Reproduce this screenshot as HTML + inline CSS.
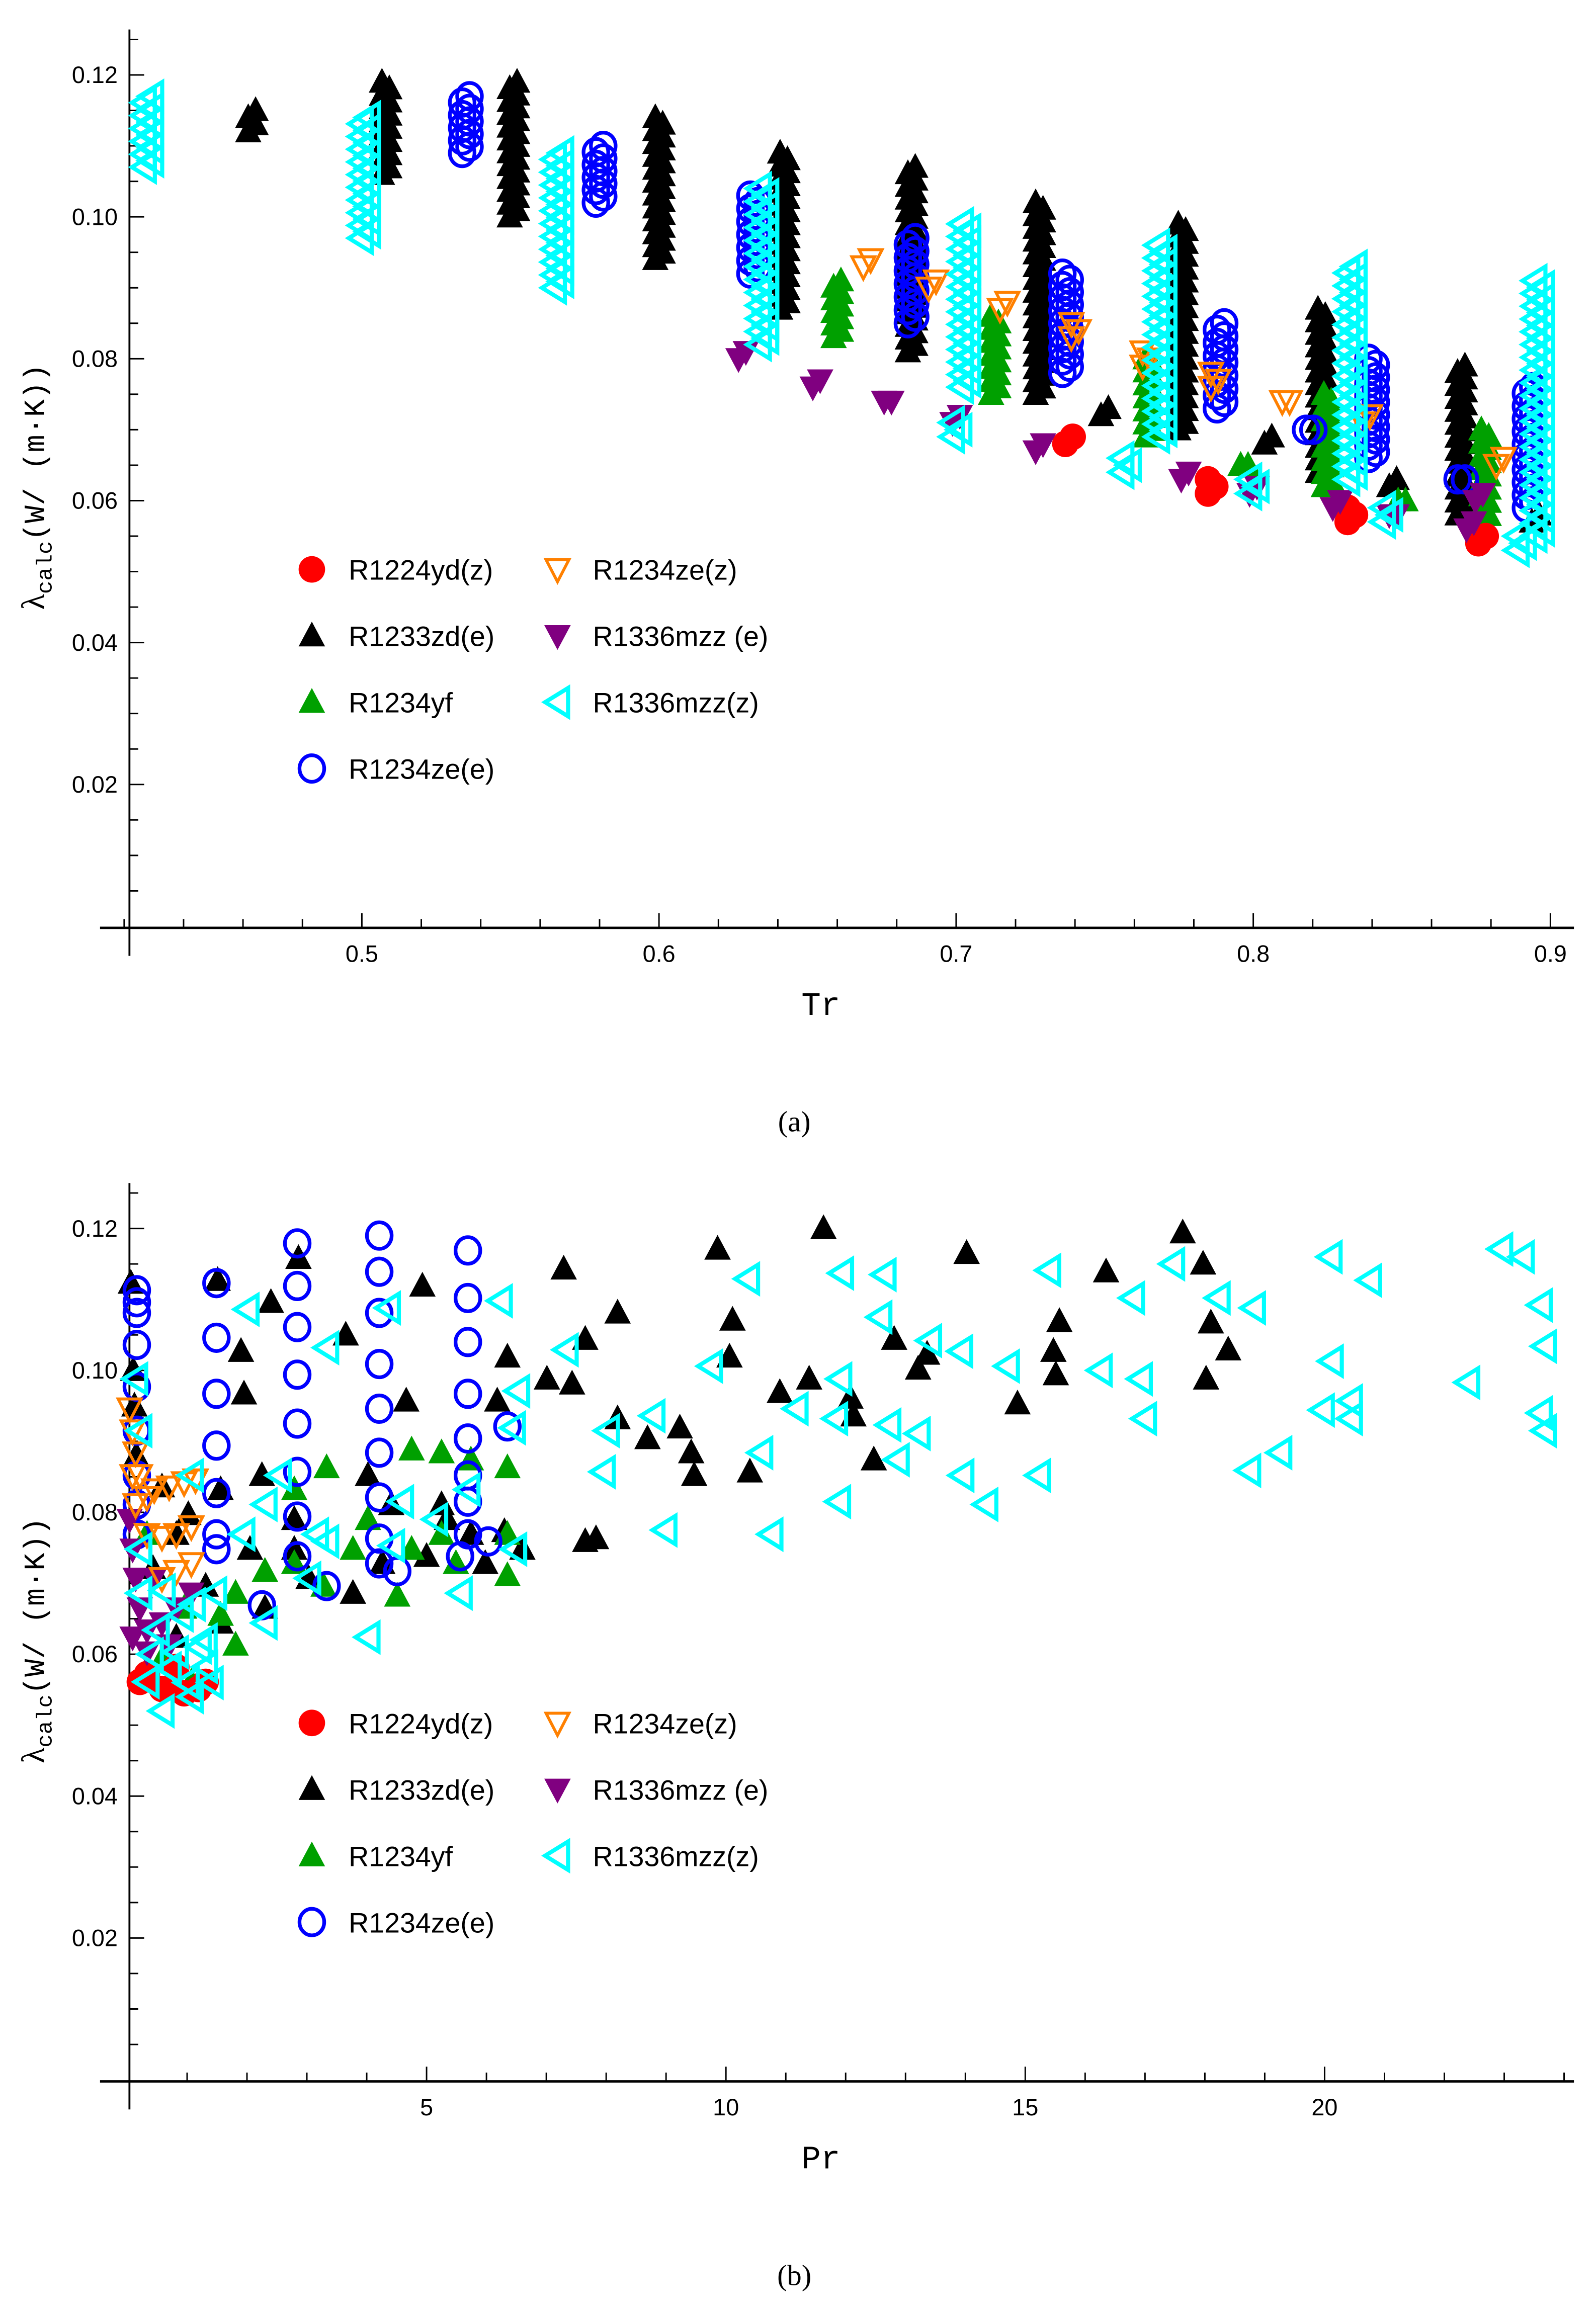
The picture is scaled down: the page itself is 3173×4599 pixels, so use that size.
<!DOCTYPE html>
<html><head><meta charset="utf-8"><title>Thermal conductivity vs Tr and Pr</title>
<style>html,body{margin:0;padding:0;background:#fff}svg{display:block}</style></head>
<body>
<svg id="fig" xmlns="http://www.w3.org/2000/svg" width="3173" height="4599" viewBox="0 0 1085 1568" preserveAspectRatio="none" font-family="'Liberation Sans', sans-serif">
<rect width="1085" height="1568" fill="#fff"/>
<g id="pa"></g>
<g id="pb"></g>
</svg>
<script>
// ---------- Panel (a): λ vs Tr, clusters (Tr, low λ, high λ) ----------
const trTicksA = [0.5, 0.6, 0.7, 0.8, 0.9];
const trTickLabelsA = ["0.5", "0.6", "0.7", "0.8", "0.9"];
const lamTicks = [0.02, 0.04, 0.06, 0.08, 0.10, 0.12];
const lamTickLabels = ["0.02", "0.04", "0.06", "0.08", "0.10", "0.12"];

const blackTrA = [0.463,0.508,0.551,0.600,0.642,0.685,0.728,0.776,0.823,0.870,0.750,0.805,0.847,0.895];
const blackLoA = [0.112,0.106,0.100,0.094,0.087,0.081,0.075,0.070,0.064,0.058,0.072,0.068,0.062,0.057];
const blackHiA = [0.115,0.119,0.119,0.114,0.109,0.107,0.102,0.099,0.087,0.079,0.073,0.069,0.063,0.058];

const greenTrA = [0.660,0.713,0.765,0.825,0.878,0.797,0.850];
const greenLoA = [0.083,0.075,0.069,0.062,0.057,0.065,0.060];
const greenHiA = [0.091,0.086,0.080,0.075,0.070,0.065,0.060];

const redTrA = [0.738,0.786,0.833,0.877];
const redLoA = [0.068,0.061,0.057,0.054];
const redHiA = [0.069,0.063,0.059,0.055];

const blueTrA = [0.535,0.580,0.632,0.685,0.737,0.789,0.840,0.893,0.819,0.870];
const blueLoA = [0.109,0.102,0.092,0.085,0.078,0.073,0.066,0.059,0.070,0.063];
const blueHiA = [0.117,0.110,0.103,0.097,0.092,0.085,0.080,0.076,0.070,0.063];

const purpleTrA = [0.628,0.653,0.677,0.700,0.728,0.777,0.800,0.828,0.847,0.873,0.876];
const purpleLoA = [0.080,0.076,0.074,0.071,0.067,0.063,0.061,0.059,0.058,0.056,0.060];
const purpleHiA = [0.081,0.077,0.074,0.072,0.068,0.064,0.062,0.060,0.058,0.057,0.061];

const orangeTrA = [0.670,0.692,0.716,0.740,0.764,0.787,0.811,0.838,0.883];
const orangeLoA = [0.093,0.090,0.087,0.083,0.079,0.076,0.074,0.071,0.065];
const orangeHiA = [0.094,0.091,0.088,0.085,0.081,0.078,0.074,0.072,0.066];

const cyanTrA = [0.428,0.501,0.566,0.635,0.703,0.769,0.833,0.896,0.700,0.757,0.800,0.845,0.890];
const cyanLoA = [0.107,0.097,0.090,0.082,0.076,0.069,0.063,0.055,0.069,0.064,0.061,0.057,0.053];
const cyanHiA = [0.117,0.114,0.109,0.104,0.099,0.096,0.093,0.091,0.071,0.066,0.063,0.059,0.055];

// ---------- Panel (b): λ vs Pr, scattered points ----------
const prTicksB = [5, 10, 15, 20];
const prTickLabelsB = ["5", "10", "15", "20"];

const blackPrB = [0.06,1.51,2.86,2.40,4.93,7.29,9.86,11.63,14.02,16.35,17.63,17.97,1.90,1.95,3.65,6.35,8.19,7.65,9.23,10.11,10.06,10.90,11.39,12.13,12.81,13.36,15.57,15.51,18.10,18.39,18.02,4.66,6.18,7.01,7.43,8.19,8.69,9.42,9.47,10.40,12.08,12.47,13.21,14.87,15.47,1.56,2.25,1.02,0.43,4.41,5.34,6.30,7.65,0.58,0.82,2.05,3.03,2.79,3.77,5.25,5.74,1.31,2.30,4.26,6.60,7.83,5.98,5.00,4.02,2.79,0.82,1.56,0.10,0.12,0.15];
const blackLamB = [.1123,.1127,.1158,.1096,.1119,.1143,.1171,.1200,.1165,.1139,.1194,.1150,.1027,.0967,.1050,.1019,.1081,.1044,.0919,.1071,.1019,.0969,.0988,.0936,.1044,.1023,.1069,.0994,.1067,.1029,.0988,.0957,.0957,.0988,.0981,.0932,.0904,.0884,.0852,.0857,.0961,.0874,.1002,.0953,.1027,.0832,.0852,.0797,.0721,.0811,.0790,.0773,.0759,.0836,.0769,.0748,.0707,.0748,.0686,.0811,.0769,.0696,.0665,.0728,.0748,.0763,.0728,.0738,.0852,.0790,.0624,.0644,.1000,.0950,.0880];

const greenPrB = [0.95,1.81,2.79,3.33,4.02,4.75,5.25,5.74,6.35,1.81,1.07,0.58,2.79,3.28,3.77,4.75,5.25,6.35,5.49,6.35,4.51,2.30,1.56,0.33];
const greenLamB = [.0665,.0686,.0832,.0863,.0790,.0888,.0884,.0874,.0863,.0613,.0561,.0593,.0728,.0696,.0748,.0748,.0769,.0769,.0728,.0711,.0682,.0717,.0655,.0769];

const redPrB = [0.33,0.58,0.95,1.19,1.31,0.21,0.82];
const redLamB = [.0572,.0551,.0545,.0551,.0561,.0561,.0582];

const bluePrB = [0.16,0.16,0.16,0.16,0.16,0.16,0.16,0.16,0.16,1.49,1.49,1.49,1.49,1.49,1.49,2.84,2.84,2.84,2.84,2.84,2.84,2.84,2.84,4.21,4.21,4.21,4.21,4.21,4.21,4.21,4.21,4.21,5.69,5.69,5.69,5.69,5.69,5.69,5.69,5.69,6.03,1.49,2.25,3.33,4.51,6.35,5.56];
const blueLamB = [.1113,.1096,.1081,.1036,.0977,.0915,.0852,.0811,.0769,.1123,.1046,.0967,.0894,.0827,.0769,.1179,.1119,.1061,.0994,.0925,.0857,.0794,.0738,.1190,.1139,.1081,.1009,.0946,.0884,.0821,.0763,.0728,.1169,.1102,.1040,.0967,.0904,.0852,.0815,.0769,.0759,.0748,.0669,.0696,.0717,.0921,.0738];

const purplePrB = [0.04,0.09,0.14,0.21,0.33,0.58,0.82,1.07,0.45,0.09,0.70,0.33];
const purpleLamB = [.0790,.0748,.0707,.0665,.0634,.0644,.0665,.0686,.0707,.0624,.0613,.0603];

const orangePrB = [0.04,0.09,0.14,0.21,0.33,0.45,0.70,0.95,1.14,0.33,0.58,0.82,1.07,0.58,0.82,1.07,0.09,0.14];
const orangeLamB = [.0946,.0915,.0884,.0852,.0821,.0832,.0836,.0842,.0846,.0769,.0765,.0769,.0780,.0707,.0717,.0728,.0852,.0811];

const cyanPrB = [10.36,11.93,12.64,15.39,17.46,20.09,20.75,22.94,23.30,23.60,23.67,23.67,23.60,22.39,20.11,20.43,20.43,19.96,19.25,18.73,18.81,18.22,16.92,16.99,16.25,16.79,14.70,13.92,13.40,13.94,13.21,15.22,14.34,11.90,11.83,12.72,12.86,12.57,11.88,11.17,10.75,9.74,7.95,10.58,8.98,8.78,8.02,7.33,6.52,6.45,6.23,4.36,3.33,2.00,2.54,1.07,1.93,3.16,4.58,3.03,4.02,2.30,1.46,5.15,5.56,6.47,5.69,4.43,3.33,2.30,0.82,0.33,1.07,0.58,1.31,0.21,0.21,0.21,0.14,0.50,0.90,1.20,0.70,1.00,1.30,0.40,1.10,0.60,1.40];
const cyanLamB = [.1129,.1137,.1135,.1141,.1150,.1160,.1127,.1171,.1160,.1092,.1034,.0915,.0940,.0983,.1013,.0957,.0932,.0944,.0884,.0859,.1088,.1102,.0988,.0932,.1000,.1102,.1006,.1027,.1042,.0852,.0911,.0852,.0811,.0988,.0932,.0923,.0874,.1075,.0815,.0946,.0769,.1006,.0857,.0884,.0775,.0936,.0915,.1029,.0971,.0919,.1098,.1088,.1032,.1086,.0852,.0852,.0769,.0769,.0815,.0707,.0624,.0811,.0686,.0790,.0686,.0748,.0832,.0753,.0759,.0644,.0603,.0561,.0540,.0520,.0582,.0686,.0748,.0915,.0988,.0634,.0655,.0610,.0580,.0560,.0620,.0600,.0670,.0690,.0560];

const legendLabels = ["R1224yd(z)","R1233zd(e)","R1234yf","R1234ze(e)","R1234ze(z)","R1336mzz (e)","R1336mzz(z)"];

const NS = "http://www.w3.org/2000/svg";
function mk(tag, attrs, parent){ const e=document.createElementNS(NS,tag); for(const k in attrs) e.setAttribute(k,attrs[k]); parent.appendChild(e); return e; }

const COL = {black:"#000000", green:"#00a000", red:"#ff0000", blue:"#0000ff", purple:"#800080", orange:"#ff8000", cyan:"#00ffff"};
const S = 1.2;

function marker(kind, x, y, g){
  let e;
  if(kind==="black"||kind==="green"){
    e = mk("polygon",{points:`${x},${y-8*S} ${x-7.5*S},${y+6*S} ${x+7.5*S},${y+6*S}`, fill:COL[kind]}, g);
  } else if(kind==="purple"){
    e = mk("polygon",{points:`${x-7.5*S},${y-6*S} ${x+7.5*S},${y-6*S} ${x},${y+8*S}`, fill:COL[kind]}, g);
  } else if(kind==="orange"){
    e = mk("polygon",{points:`${x-6.5*S},${y-5.5*S} ${x+6.5*S},${y-5.5*S} ${x},${y+7*S}`, fill:"none", stroke:COL[kind], "stroke-width":2}, g);
  } else if(kind==="blue"){
    e = mk("ellipse",{cx:x, cy:y, rx:7*S, ry:7.5*S, fill:"none", stroke:COL[kind], "stroke-width":2.5}, g);
  } else if(kind==="red"){
    e = mk("circle",{cx:x, cy:y, r:7.5*S, fill:COL[kind]}, g);
  } else if(kind==="cyan"){
    e = mk("polygon",{points:`${x-7*S},${y} ${x+6*S},${y-8*S} ${x+6*S},${y+8*S}`, fill:"none", stroke:COL[kind], "stroke-width":2.8, "stroke-linejoin":"miter"}, g);
  }
  return e;
}

function drawAxes(g, opt){
  const ax = mk("g",{},g);
  
  
  mk("line",{x1:opt.axX, y1:opt.yTop, x2:opt.axX, y2:opt.xAxY+19, stroke:"#000","stroke-width":1.3}, ax);
  mk("line",{x1:68, y1:opt.xAxY, x2:1070, y2:opt.xAxY, stroke:"#000","stroke-width":1.6}, ax);
  for(let v=0.005; v<=0.1251; v+=0.005){
    const major = Math.abs((v/0.02)-Math.round(v/0.02))<1e-6;
    const y = opt.sy(v);
    mk("line",{x1:opt.axX, y1:y, x2:opt.axX+(major?10:6), y2:y, stroke:"#000","stroke-width":1}, ax);
  }
  lamTicks.forEach((v,i)=>{
    const t = mk("text",{x:opt.axX-8, y:opt.sy(v)+5.5, "text-anchor":"end","font-size":16}, ax);
    t.textContent = lamTickLabels[i];
    
    
  });
  opt.xMinor.forEach(v=>{
    const x = opt.sx(v);
    mk("line",{x1:x, y1:opt.xAxY, x2:x, y2:opt.xAxY-(opt.isMajor(v)?10:6), stroke:"#000","stroke-width":1}, ax);
  });
  opt.xTicks.forEach((v,i)=>{
    const t = mk("text",{x:opt.sx(v), y:opt.xAxY+23, "text-anchor":"middle","font-size":16}, ax);
    t.textContent = opt.xLabels[i];
    
    
  });
  const yt = mk("text",{transform:`translate(30 ${opt.yTitleY}) rotate(-90)`, "text-anchor":"middle","font-size":20, "font-family":"'Liberation Mono', monospace"}, g);
  yt.innerHTML = '<tspan font-family="\'Liberation Serif\', serif" font-size="22">λ</tspan><tspan font-size="15" dy="5">calc</tspan><tspan dy="-5">(W/ (m·K))</tspan>';
  
  
  const xt = mk("text",{x:558, y:opt.xAxY+59, "text-anchor":"middle","font-size":22, "font-family":"'Liberation Mono', monospace"}, g);
  xt.textContent = opt.xTitle;
  
  
  const cap = mk("text",{x:540, y:opt.xAxY+138, "text-anchor":"middle","font-size":20, "font-family":"'Liberation Serif', serif"}, g);
  cap.textContent = opt.caption;
  
  
}

function drawLegend(g, pfx, y0){
  const kinds = ["red","black","green","blue","orange","purple","cyan"];
  kinds.forEach((k,i)=>{
    const col = i<4?0:1, row = i<4?i:i-4;
    const mx = col===0?212:379, tx = col===0?237:403, y = y0+row*45;
    const it = mk("g",{},g);
    
    
    marker(k, mx, y, it);
    const t = mk("text",{x:tx, y:y+7, "font-size":19}, it);
    t.textContent = legendLabels[i];
  });
}

// ---- Panel a
const sxA = v => 246 + (v-0.5)*2020;
const syA = v => 628 - v*4810;
const gA = document.getElementById("pa");
drawAxes(gA, {pfx:"chart-a", axX:88, yTop:20, xAxY:629, sy:syA, sx:sxA,
  xMinor:Array.from({length:25},(_,i)=>0.42+i*0.02), isMajor:v=>Math.abs(v*10-Math.round(v*10))<1e-6,
  xTicks:trTicksA, xLabels:trTickLabelsA, yTitleY:330, xTitle:"Tr", caption:"(a)"});

function clusterSeries(g, kind, name, trs, los, his){
  const sg = mk("g",{},g);
  
  
  trs.forEach((t,i)=>{
    const lo=los[i], hi=his[i];
    const n = Math.max(1, Math.round((hi-lo)/0.0009));
    for(let j=0;j<=n;j++){
      const v = lo + (hi-lo)*j/n;
      const m = marker(kind, sxA(t)+((j%2)?2.5:-2.5), syA(v), sg);
      
      
    }
  });
}
clusterSeries(gA,"black","series-r1233zd-e",blackTrA,blackLoA,blackHiA);
clusterSeries(gA,"green","series-r1234yf",greenTrA,greenLoA,greenHiA);
clusterSeries(gA,"red","series-r1224yd-z",redTrA,redLoA,redHiA);
clusterSeries(gA,"blue","series-r1234ze-e",blueTrA,blueLoA,blueHiA);
clusterSeries(gA,"purple","series-r1336mzz-e",purpleTrA,purpleLoA,purpleHiA);
clusterSeries(gA,"orange","series-r1234ze-z",orangeTrA,orangeLoA,orangeHiA);
clusterSeries(gA,"cyan","series-r1336mzz-z",cyanTrA,cyanLoA,cyanHiA);
drawLegend(gA,"chart-a",386);

// ---- Panel b
const sxB = v => 86.5 + v*40.7;
const syB = v => 1410 - v*4810;
const gB = document.getElementById("pb");
drawAxes(gB, {pfx:"chart-b", axX:88, yTop:802, xAxY:1411, sy:syB, sx:sxB,
  xMinor:Array.from({length:24},(_,i)=>i+1), isMajor:v=>v%5===0,
  xTicks:prTicksB, xLabels:prTickLabelsB, yTitleY:1112, xTitle:"Pr", caption:"(b)"});

function pointSeries(g, kind, name, xs, ys){
  const sg = mk("g",{},g);
  
  
  xs.forEach((p,i)=>{
    const m = marker(kind, sxB(p), syB(ys[i]), sg);
    
    
  });
}
pointSeries(gB,"black","series-b-r1233zd-e",blackPrB,blackLamB);
pointSeries(gB,"green","series-b-r1234yf",greenPrB,greenLamB);
pointSeries(gB,"red","series-b-r1224yd-z",redPrB,redLamB);
pointSeries(gB,"blue","series-b-r1234ze-e",bluePrB,blueLamB);
pointSeries(gB,"purple","series-b-r1336mzz-e",purplePrB,purpleLamB);
pointSeries(gB,"orange","series-b-r1234ze-z",orangePrB,orangeLamB);
pointSeries(gB,"cyan","series-b-r1336mzz-z",cyanPrB,cyanLamB);
drawLegend(gB,"chart-b",1168);
</script>
</body></html>
